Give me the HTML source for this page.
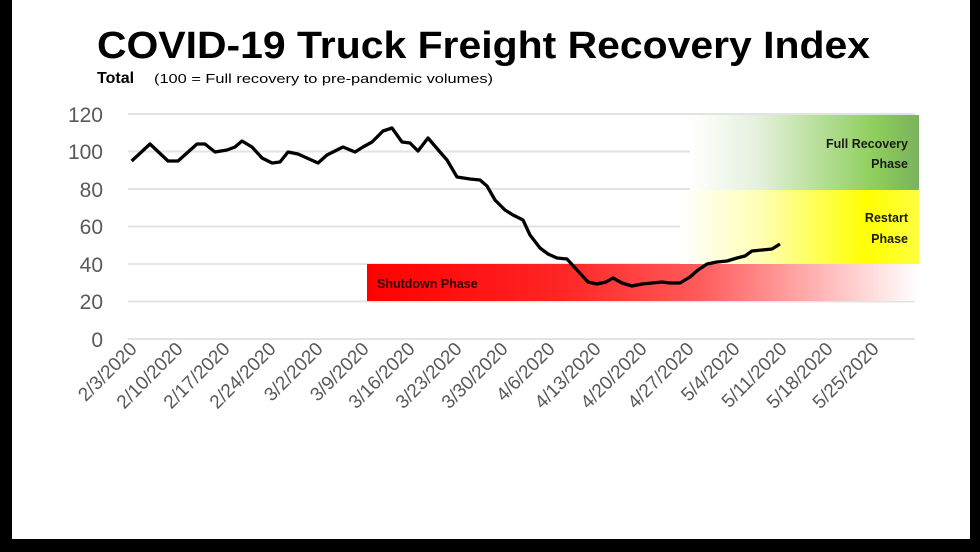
<!DOCTYPE html>
<html><head><meta charset="utf-8"><style>
html,body{margin:0;padding:0;background:#000;}
svg{display:block;}
</style></head><body>
<svg width="980" height="552" viewBox="0 0 980 552" xmlns="http://www.w3.org/2000/svg">
<defs>
<linearGradient id="gG" x1="0" x2="1"><stop offset="0" stop-color="#fff"/><stop offset="0.3" stop-color="#e4f0dc"/><stop offset="0.8" stop-color="#8fcf5c"/><stop offset="1" stop-color="#7ab25c"/></linearGradient>
<linearGradient id="gY" x1="0" x2="1"><stop offset="0" stop-color="#fff"/><stop offset="0.35" stop-color="#ffffb0"/><stop offset="0.78" stop-color="#ffff00"/><stop offset="1" stop-color="#ffff40"/></linearGradient>
<linearGradient id="gR" x1="0" x2="1"><stop offset="0" stop-color="#ff0000"/><stop offset="0.35" stop-color="#ff2525"/><stop offset="0.6" stop-color="#ff5a5a"/><stop offset="1" stop-color="#fff"/></linearGradient>
</defs>
<rect x="12" y="0" width="958" height="539" fill="#fff"/>
<g stroke="#e3e3e3" stroke-width="2">
<line x1="128" x2="915" y1="114" y2="114"/><line x1="128" x2="915" y1="151.5" y2="151.5"/><line x1="128" x2="915" y1="189" y2="189"/><line x1="128" x2="915" y1="226.5" y2="226.5"/><line x1="128" x2="915" y1="264" y2="264"/><line x1="128" x2="915" y1="301.5" y2="301.5"/><line x1="128" x2="915" y1="339" y2="339"/>
</g>
<rect x="690" y="115" width="229" height="75" fill="url(#gG)"/>
<rect x="680" y="190" width="239" height="74" fill="url(#gY)"/>
<rect x="367" y="264" width="552" height="37" fill="url(#gR)"/>
<g font-family="Liberation Sans, sans-serif" font-weight="bold" font-size="12.5" fill="#1a1a1a" text-anchor="end">
<text x="908" y="148">Full Recovery</text><text x="908" y="168">Phase</text>
<text x="908" y="222">Restart</text><text x="908" y="243">Phase</text>
<text x="377" y="288" text-anchor="start" fill="#300">Shutdown Phase</text>
</g>
<g font-family="Liberation Sans, sans-serif" font-size="21" fill="#595959" text-anchor="end">
<text x="103" y="122">120</text><text x="103" y="159">100</text><text x="103" y="197">80</text><text x="103" y="234">60</text><text x="103" y="272">40</text><text x="103" y="309">20</text><text x="103" y="347">0</text>
</g>
<polyline fill="none" stroke="#000" stroke-width="3.3" stroke-linejoin="round" points="131.7,161 150,144 168,161 178,161 197,144 205,144 215,152 227,150 235,147 242,141 252,147 262,158 272,163 280,162 288,152 298,154 318,163 327,155 343,147 355,152 363,147 372,142 383,131 392,128 402,142 410,143 418,151 428,138 440,152 447,160 457,177 470,179 480,180 487,186 495,200 505,210 513,215 523,220 530,235 540,248 548,254 557,258 567,259 577,270 588,282 597,284 606,282 613,278 622,283 632,286 642,284 652,283 662,282 670,283 680,283 690,277 698,270 707,264 717,262 727,261 737,258 745,256 752,251 762,250 772,249 780,244"/>
<g font-family="Liberation Sans, sans-serif" font-size="19" fill="#595959" text-anchor="end">
<text transform="translate(138,350) rotate(-45)">2/3/2020</text>
<text transform="translate(184,350) rotate(-45)">2/10/2020</text>
<text transform="translate(231,350) rotate(-45)">2/17/2020</text>
<text transform="translate(277,350) rotate(-45)">2/24/2020</text>
<text transform="translate(324,350) rotate(-45)">3/2/2020</text>
<text transform="translate(370,350) rotate(-45)">3/9/2020</text>
<text transform="translate(416,350) rotate(-45)">3/16/2020</text>
<text transform="translate(463,350) rotate(-45)">3/23/2020</text>
<text transform="translate(509,350) rotate(-45)">3/30/2020</text>
<text transform="translate(556,350) rotate(-45)">4/6/2020</text>
<text transform="translate(602,350) rotate(-45)">4/13/2020</text>
<text transform="translate(648,350) rotate(-45)">4/20/2020</text>
<text transform="translate(695,350) rotate(-45)">4/27/2020</text>
<text transform="translate(741,350) rotate(-45)">5/4/2020</text>
<text transform="translate(788,350) rotate(-45)">5/11/2020</text>
<text transform="translate(834,350) rotate(-45)">5/18/2020</text>
<text transform="translate(880,350) rotate(-45)">5/25/2020</text>
</g>
<text x="97" y="58" font-family="Liberation Sans, sans-serif" font-weight="bold" font-size="38" fill="#000" textLength="773" lengthAdjust="spacingAndGlyphs">COVID-19 Truck Freight Recovery Index</text>
<text x="97" y="83" font-family="Liberation Sans, sans-serif" font-weight="bold" font-size="16" fill="#000">Total</text>
<text x="154" y="83" font-family="Liberation Sans, sans-serif" font-size="13" fill="#000" textLength="339" lengthAdjust="spacingAndGlyphs">(100 = Full recovery to pre-pandemic volumes)</text>
</svg>
</body></html>
